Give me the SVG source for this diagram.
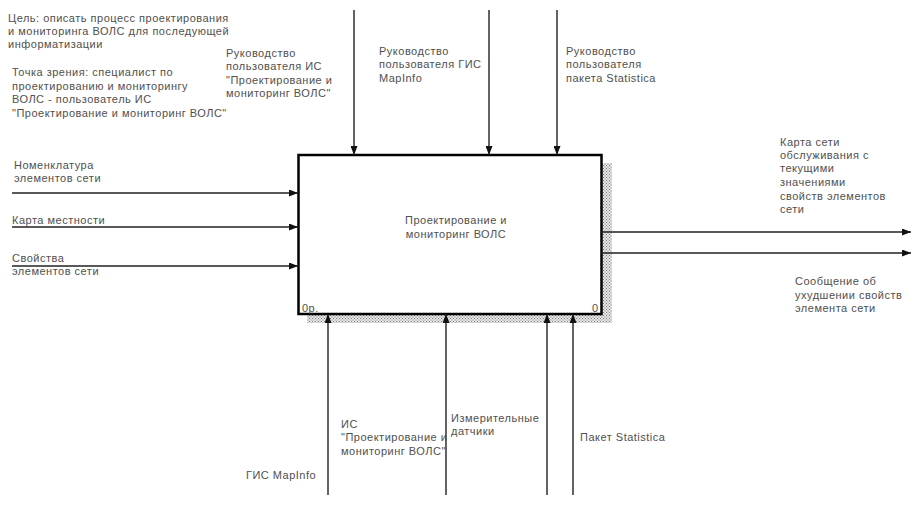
<svg xmlns="http://www.w3.org/2000/svg" width="919" height="506" viewBox="0 0 919 506">
<style>
text{font-family:"Liberation Sans",Arial,sans-serif;font-size:11px;fill:#505050;letter-spacing:0.5px}
.ln{stroke:#222;stroke-width:1.4;fill:none}
</style>
<defs>
<pattern id="hatch" width="3" height="3" patternUnits="userSpaceOnUse">
<rect width="3" height="3" fill="#e8e8e8"/>
<rect x="0" y="0" width="1" height="1" fill="#777"/>
<rect x="1.5" y="1.5" width="1" height="1" fill="#777"/>
</pattern>
<marker id="ah" markerWidth="9" markerHeight="7" refX="9" refY="3.5" orient="auto" markerUnits="userSpaceOnUse">
<path d="M0,0 L9,3.5 L0,7 z" fill="#111"/>
</marker>
</defs>
<rect width="919" height="506" fill="#fff"/>
<g id="notes">
<text x="8" y="22">Цель: описать процесс проектирования</text>
<text x="8" y="35">и мониторинга ВОЛС для последующей</text>
<text x="8" y="48">информатизации</text>
<text x="12" y="76">Точка зрения: специалист по</text>
<text x="12" y="90">проектированию и мониторингу</text>
<text x="12" y="103">ВОЛС - пользователь ИС</text>
<text x="12" y="117">"Проектирование и мониторинг ВОЛС"</text>
</g>
<g id="node-A0">
<rect x="601" y="163" width="11" height="160" fill="url(#hatch)"/>
<rect x="307" y="314" width="305" height="9" fill="url(#hatch)"/>
<rect x="298.5" y="155" width="303" height="159" fill="#fff" stroke="#000" stroke-width="2.5"/>
<text x="456" y="224" text-anchor="middle">Проектирование и</text>
<text x="456" y="238" text-anchor="middle">мониторинг ВОЛС</text>
<text x="302" y="312">0р.</text>
<text x="592" y="312">0</text>
</g>
<g id="connectors">
<line class="ln" x1="354" y1="10" x2="354" y2="155" marker-end="url(#ah)"/>
<line class="ln" x1="489" y1="10" x2="489" y2="155" marker-end="url(#ah)"/>
<line class="ln" x1="557" y1="10" x2="557" y2="155" marker-end="url(#ah)"/>
<line class="ln" x1="12" y1="193" x2="298" y2="193" marker-end="url(#ah)"/>
<line class="ln" x1="12" y1="227" x2="298" y2="227" marker-end="url(#ah)"/>
<line class="ln" x1="12" y1="266" x2="298" y2="266" marker-end="url(#ah)"/>
<line class="ln" x1="601" y1="232" x2="911" y2="232" marker-end="url(#ah)"/>
<line class="ln" x1="601" y1="253" x2="911" y2="253" marker-end="url(#ah)"/>
<line class="ln" x1="328" y1="495" x2="328" y2="314" marker-end="url(#ah)"/>
<line class="ln" x1="446" y1="495" x2="446" y2="314" marker-end="url(#ah)"/>
<line class="ln" x1="547" y1="495" x2="547" y2="314" marker-end="url(#ah)"/>
<line class="ln" x1="573" y1="495" x2="573" y2="314" marker-end="url(#ah)"/>
</g>
<g id="labels">
<text x="226" y="57">Руководство</text>
<text x="226" y="70">пользователя ИС</text>
<text x="226" y="84">"Проектирование и</text>
<text x="226" y="97">мониторинг ВОЛС"</text>
<text x="379" y="55">Руководство</text>
<text x="379" y="68">пользователя ГИС</text>
<text x="379" y="82">MapInfo</text>
<text x="566" y="55">Руководство</text>
<text x="566" y="68">пользователя</text>
<text x="566" y="82">пакета Statistica</text>
<text x="14" y="169">Номенклатура</text>
<text x="14" y="182">элементов сети</text>
<text x="12" y="224">Карта местности</text>
<text x="12" y="262">Свойства</text>
<text x="12" y="275">элементов сети</text>
<text x="780" y="146">Карта сети</text>
<text x="780" y="159">обслуживания с</text>
<text x="780" y="172">текущими</text>
<text x="780" y="186">значениями</text>
<text x="780" y="200">свойств элементов</text>
<text x="780" y="213">сети</text>
<text x="795" y="285">Сообщение об</text>
<text x="795" y="299">ухудшении свойств</text>
<text x="795" y="312">элемента сети</text>
<text x="341" y="428">ИС</text>
<text x="341" y="441">"Проектирование и</text>
<text x="341" y="455">мониторинг ВОЛС"</text>
<text x="451" y="422">Измерительные</text>
<text x="451" y="435">датчики</text>
<text x="580" y="441">Пакет Statistica</text>
<text x="246" y="479">ГИС MapInfo</text>
</g>
</svg>
